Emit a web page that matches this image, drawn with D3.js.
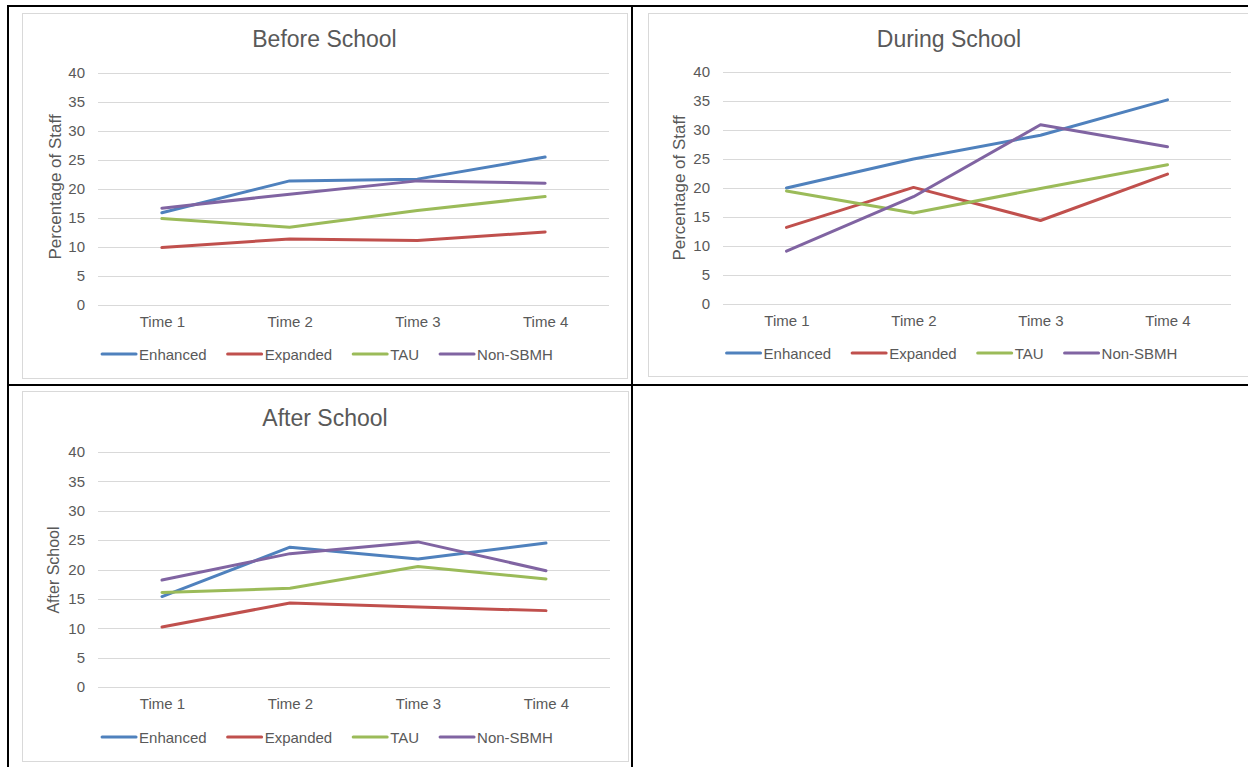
<!DOCTYPE html>
<html>
<head>
<meta charset="utf-8">
<script src="https://cdn.jsdelivr.net/npm/d3@7"></script>
<style>
  html, body { margin: 0; padding: 0; background: #fff; }
  svg { display: block; }
</style>
</head>
<body>
<svg id="chart" width="1248" height="767"></svg>
<script>
// Categories, series names and tick values
const times = ["Time 1", "Time 2", "Time 3", "Time 4"];
const seriesNames = ["Enhanced", "Expanded", "TAU", "Non-SBMH"];
const yTicks = [0, 5, 10, 15, 20, 25, 30, 35, 40];

// Before school (% of staff)
const beforeEnhanced = [15.9, 21.4, 21.7, 25.5];
const beforeExpanded = [9.9, 11.4, 11.1, 12.6];
const beforeTAU      = [14.9, 13.4, 16.3, 18.7];
const beforeNonSBMH  = [16.7, 19.1, 21.4, 21.0];

// During school (% of staff)
const duringEnhanced = [20.0, 25.0, 29.1, 35.2];
const duringExpanded = [13.2, 20.1, 14.4, 22.4];
const duringTAU      = [19.5, 15.7, 19.9, 24.0];
const duringNonSBMH  = [9.1, 18.5, 30.9, 27.1];

// After school (% of staff)
const afterEnhanced = [15.4, 23.8, 21.8, 24.5];
const afterExpanded = [10.2, 14.3, 13.6, 13.0];
const afterTAU      = [16.1, 16.8, 20.5, 18.4];
const afterNonSBMH  = [18.2, 22.7, 24.7, 19.8];

const colors = d3.scaleOrdinal()
  .domain(seriesNames)
  .range(["#4F81BD", "#C0504D", "#9BBB59", "#8064A2"]);

const textColor = "#595959";
const gridColor = "#D9D9D9";
const font = "'Liberation Sans', Arial, sans-serif";

const panels = [
  {
    title: "Before School", yTitle: "Percentage of Staff", yTitleSize: 17,
    series: [beforeEnhanced, beforeExpanded, beforeTAU, beforeNonSBMH],
    frame: { x: 22, y: 13, w: 605, h: 365 },
    plot: { left: 98, right: 609, top: 73, bottom: 305 },
    titleX: 324.5, titleY: 47, yTitleX: 55, yTitleY: 187,
    legendY: 354, legendCx: 327.5
  },
  {
    title: "During School", yTitle: "Percentage of Staff", yTitleSize: 17,
    series: [duringEnhanced, duringExpanded, duringTAU, duringNonSBMH],
    frame: { x: 648, y: 13, w: 605, h: 363 },
    plot: { left: 723, right: 1231, top: 72, bottom: 304 },
    titleX: 949, titleY: 47, yTitleX: 679, yTitleY: 188,
    legendY: 353, legendCx: 952
  },
  {
    title: "After School", yTitle: "After School", yTitleSize: 16,
    series: [afterEnhanced, afterExpanded, afterTAU, afterNonSBMH],
    frame: { x: 22, y: 391, w: 606, h: 370 },
    plot: { left: 98, right: 610, top: 452, bottom: 687 },
    titleX: 325, titleY: 425.5, yTitleX: 53, yTitleY: 570,
    legendY: 737, legendCx: 327.5
  }
];

const svg = d3.select("#chart");

panels.forEach(p => {
  const g = svg.append("g");

  // chart area frame
  g.append("rect")
    .attr("x", p.frame.x + 0.5).attr("y", p.frame.y + 0.5)
    .attr("width", p.frame.w).attr("height", p.frame.h)
    .attr("fill", "#fff").attr("stroke", gridColor).attr("stroke-width", 1);

  const x = d3.scalePoint().domain(times)
    .range([p.plot.left, p.plot.right]).padding(0.5);
  const y = d3.scaleLinear().domain([0, 40])
    .range([p.plot.bottom, p.plot.top]);

  // y axis with gridlines
  const yAxis = g.append("g")
    .attr("transform", `translate(${p.plot.left},0)`)
    .call(d3.axisLeft(y).tickValues(yTicks)
      .tickSize(-(p.plot.right - p.plot.left)).tickPadding(13));
  yAxis.select(".domain").remove();
  yAxis.selectAll(".tick line")
    .attr("stroke", gridColor).attr("stroke-width", 1)
    .attr("shape-rendering", "crispEdges");
  yAxis.selectAll(".tick text")
    .attr("fill", textColor)
    .style("font-family", font).style("font-size", "15px");

  // x axis labels
  const xAxis = g.append("g")
    .attr("transform", `translate(0,${p.plot.bottom})`)
    .call(d3.axisBottom(x).tickSize(0).tickPadding(11));
  xAxis.select(".domain").remove();
  xAxis.selectAll(".tick text")
    .attr("fill", textColor)
    .style("font-family", font).style("font-size", "15px");

  // series lines
  const line = d3.line()
    .x((d, i) => x(times[i]))
    .y(d => y(d));
  p.series.forEach((vals, si) => {
    g.append("path")
      .datum(vals)
      .attr("d", line)
      .attr("fill", "none")
      .attr("stroke", colors(seriesNames[si]))
      .attr("stroke-width", 3)
      .attr("stroke-linejoin", "round")
      .attr("stroke-linecap", "round");
  });

  // chart title
  g.append("text")
    .attr("x", p.titleX).attr("y", p.titleY)
    .attr("text-anchor", "middle")
    .attr("fill", textColor)
    .style("font-family", font).style("font-size", "23px")
    .text(p.title);

  // vertical axis title
  g.append("text")
    .attr("transform", `translate(${p.yTitleX},${p.yTitleY}) rotate(-90)`)
    .attr("text-anchor", "middle")
    .attr("dominant-baseline", "central")
    .attr("fill", textColor)
    .style("font-family", font).style("font-size", p.yTitleSize + "px")
    .text(p.yTitle);

  // legend: lay out items, then centre the row
  const lg = g.append("g");
  const lineLen = 34, lineGap = 3, itemGap = 21;
  let cursor = 0;
  seriesNames.forEach(name => {
    const item = lg.append("g").attr("transform", `translate(${cursor},0)`);
    item.append("line")
      .attr("x1", 0).attr("x2", lineLen)
      .attr("y1", 0).attr("y2", 0)
      .attr("stroke", colors(name)).attr("stroke-width", 3)
      .attr("stroke-linecap", "round");
    const t = item.append("text")
      .attr("x", lineLen + lineGap).attr("y", 0)
      .attr("dominant-baseline", "central")
      .attr("fill", textColor)
      .style("font-family", font).style("font-size", "15px")
      .text(name);
    cursor += lineLen + lineGap + t.node().getComputedTextLength() + itemGap;
  });
  const total = cursor - itemGap;
  lg.attr("transform", `translate(${p.legendCx - total / 2},${p.legendY})`);
});

// table borders around the three chart cells
const borders = [
  [7, 6, 1248, 6],
  [8, 5, 8, 767],
  [632, 5, 632, 767],
  [7, 385, 1248, 385]
];
svg.append("g").selectAll("line")
  .data(borders)
  .join("line")
  .attr("x1", d => d[0]).attr("y1", d => d[1])
  .attr("x2", d => d[2]).attr("y2", d => d[3])
  .attr("stroke", "#000").attr("stroke-width", 2);
</script>
</body>
</html>
